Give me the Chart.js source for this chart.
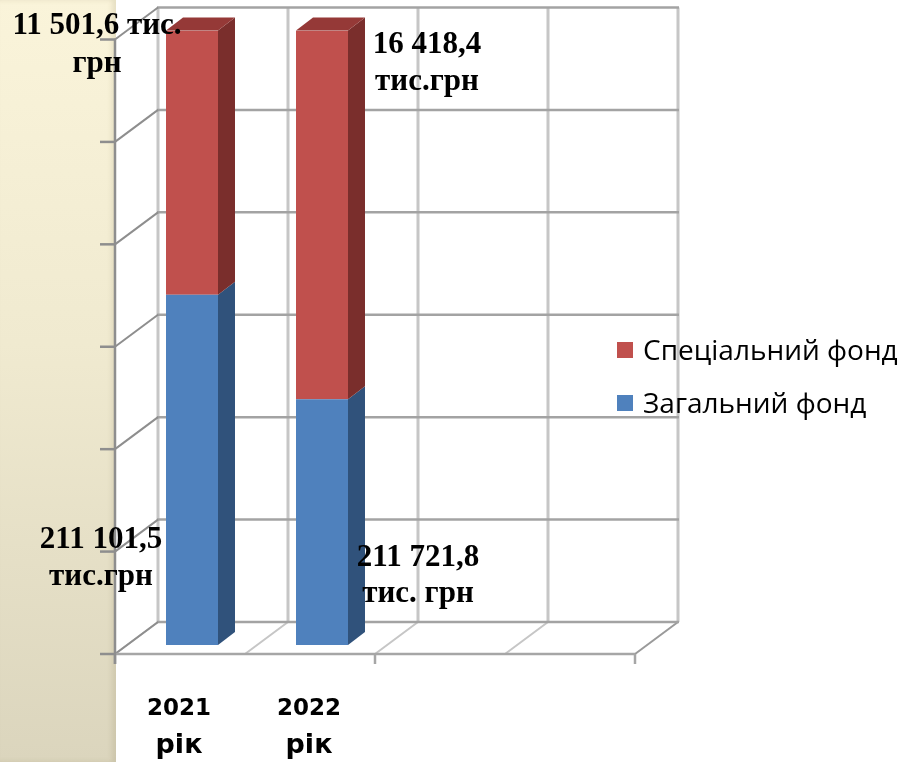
<!DOCTYPE html>
<html>
<head>
<meta charset="utf-8">
<script src="https://cdn.jsdelivr.net/npm/chart.js@4"></script>
<style>
  html, body { margin: 0; padding: 0; background: #ffffff; }
  #wrap { position: relative; width: 899px; height: 762px; overflow: hidden; }
  #band {
    position: absolute; left: 0; top: 0; width: 116px; height: 762px;
    background: linear-gradient(to bottom, #FAF4DA 0%, #F0EAD0 45%, #DBD5BD 100%);
    box-shadow: inset -4px 0 5px rgba(120,110,70,0.15);
  }
  canvas { position: absolute; left: 0; top: 0; }
</style>
</head>
<body>
<div id="wrap">
  <div id="band"></div>
  <canvas id="c" width="899" height="762"></canvas>
</div>
<script>
// ---- data (plotted shares, %) ----
const categories = ['2021 рік', '2022 рік', '', ''];
const generalFund = [57, 40, null, null];   // Загальний фонд
const specialFund = [43, 60, null, null];   // Спеціальний фонд
const seriesNames = ['Загальний фонд', 'Спеціальний фонд'];
const generalLabels = [['211 101,5', 'тис.грн'], ['211 721,8', 'тис. грн']];
const specialLabels = [['11 501,6 тис.', 'грн'], ['16 418,4', 'тис.грн']];
const gridSteps = 6;
const yMax = 100;

// ---- styles ----
const COL = {
  blue: '#4F81BD', blueSide: '#30527B',
  red: '#C0504D', redSide: '#7A2E2C', redTop: '#953937'
};
const FRONT = { dx: -12, dy: 9 };   // front plane offset from bar plane
const BACK  = { dx: 31, dy: -23 };  // back wall offset from bar plane
const DEPTH = { dx: 17, dy: -13 };  // bar depth

function line(ctx, x1, y1, x2, y2) {
  ctx.beginPath(); ctx.moveTo(x1, y1); ctx.lineTo(x2, y2); ctx.stroke();
}
function poly(ctx, pts, fill) {
  ctx.beginPath(); ctx.moveTo(pts[0][0], pts[0][1]);
  for (let i = 1; i < pts.length; i++) ctx.lineTo(pts[i][0], pts[i][1]);
  ctx.closePath(); ctx.fillStyle = fill; ctx.fill();
}

const fake3d = {
  id: 'fake3d',
  beforeDatasetsDraw(chart) {
    const { ctx, chartArea: a, scales: { y } } = chart;
    const n = categories.length;
    const step = (a.right - a.left) / n;
    const y0 = y.getPixelForValue(0), yT = y.getPixelForValue(yMax);
    ctx.save();
    ctx.lineCap = 'butt';
    // back wall verticals
    ctx.strokeStyle = '#C6C6C6'; ctx.lineWidth = 3;
    for (let k = 0; k <= n; k++) {
      const bx = a.left + k * step + BACK.dx;
      line(ctx, bx, yT + BACK.dy, bx, y0 + BACK.dy);
    }
    // floor diagonals
    ctx.strokeStyle = '#C6C6C6'; ctx.lineWidth = 2;
    for (let k = 0; k <= n; k++) {
      const fx = a.left + k * step;
      if (k === n) ctx.strokeStyle = '#9A9A9A';
      line(ctx, fx + FRONT.dx, y0 + FRONT.dy, fx + BACK.dx, y0 + BACK.dy);
    }
    // back wall horizontals
    ctx.strokeStyle = '#A3A3A3'; ctx.lineWidth = 2.5;
    for (let i = 0; i <= gridSteps; i++) {
      const py = y.getPixelForValue(i * yMax / gridSteps) + BACK.dy;
      line(ctx, a.left + BACK.dx - 1, py, a.right + BACK.dx + 1, py);
    }
    // side wall diagonals
    ctx.strokeStyle = '#8E8E8E'; ctx.lineWidth = 2;
    for (let i = 0; i <= gridSteps; i++) {
      const py = y.getPixelForValue(i * yMax / gridSteps);
      line(ctx, a.left + FRONT.dx, py + FRONT.dy, a.left + BACK.dx, py + BACK.dy);
    }
    // front floor line and x ticks
    ctx.strokeStyle = '#A6A6A6'; ctx.lineWidth = 2.5;
    line(ctx, a.left + FRONT.dx, y0 + FRONT.dy, a.right + FRONT.dx, y0 + FRONT.dy);
    for (let k = 0; k <= n; k += 2) {
      const fx = a.left + k * step + FRONT.dx;
      line(ctx, fx, y0 + FRONT.dy, fx, y0 + FRONT.dy + 10);
    }
    // front vertical axis with ticks
    ctx.strokeStyle = '#8E8E8E'; ctx.lineWidth = 2.5;
    line(ctx, a.left + FRONT.dx, yT + FRONT.dy, a.left + FRONT.dx, y0 + FRONT.dy + 10);
    for (let i = 0; i <= gridSteps; i++) {
      const py = y.getPixelForValue(i * yMax / gridSteps) + FRONT.dy;
      line(ctx, a.left + FRONT.dx - 15, py, a.left + FRONT.dx, py);
    }
    ctx.restore();
  },
  afterDatasetsDraw(chart) {
    const { ctx } = chart;
    const sides = [COL.blueSide, COL.redSide];
    const nd = chart.data.datasets.length;
    ctx.save();
    for (let d = 0; d < nd; d++) {
      const meta = chart.getDatasetMeta(d);
      meta.data.forEach((el, i) => {
        const v = chart.data.datasets[d].data[i];
        if (v === null || v === undefined) return;
        const L = el.x - el.width / 2, R = el.x + el.width / 2;
        const top = el.y, bot = el.base;
        poly(ctx, [[R, top], [R + DEPTH.dx, top + DEPTH.dy], [R + DEPTH.dx, bot + DEPTH.dy], [R, bot]], sides[d]);
        if (d === nd - 1) {
          poly(ctx, [[L, top], [L + DEPTH.dx, top + DEPTH.dy], [R + DEPTH.dx, top + DEPTH.dy], [R, top]], COL.redTop);
        }
      });
    }
    ctx.restore();
  },
  afterDraw(chart) {
    const { ctx, scales: { x } } = chart;
    ctx.save();
    ctx.fillStyle = '#000';
    ctx.textAlign = 'center';
    ctx.textBaseline = 'alphabetic';
    // value labels
    ctx.font = 'bold 31px "Liberation Serif", "Times New Roman", serif';
    const gMeta = chart.getDatasetMeta(0), sMeta = chart.getDatasetMeta(1);
    const sPlace = [{ dx: -95, dy: [3.5, 41.5] }, { dx: 105, dy: [22.5, 59.5] }];
    const gPlace = [{ dx: -91, dy: [-97, -60] }, { dx: 96, dy: [-79, -43] }];
    specialLabels.forEach((lines, i) => {
      const el = sMeta.data[i];
      lines.forEach((t, j) => ctx.fillText(t, el.x + sPlace[i].dx, el.y + sPlace[i].dy[j]));
    });
    generalLabels.forEach((lines, i) => {
      const el = gMeta.data[i];
      lines.forEach((t, j) => ctx.fillText(t, el.x + gPlace[i].dx, el.base + gPlace[i].dy[j]));
    });
    // category labels
    const catFonts = ['bold 23px "DejaVu Sans", sans-serif', 'bold 27px "DejaVu Sans", sans-serif'];
    const catBase = [715, 753];
    categories.forEach((c, i) => {
      if (!c) return;
      const cx = x.getPixelForValue(i) + FRONT.dx - 1;
      c.split(' ').forEach((t, j) => {
        ctx.font = catFonts[j];
        ctx.fillText(t, cx, catBase[j]);
      });
    });
    // legend
    ctx.textAlign = 'left';
    ctx.font = '28px "Open Sans", sans-serif';
    const items = [
      { name: seriesNames[1], color: COL.red },
      { name: seriesNames[0], color: COL.blue }
    ];
    items.forEach((it, j) => {
      const yy = 342 + j * 53;
      ctx.fillStyle = it.color;
      ctx.fillRect(617, yy, 16, 16);
      ctx.fillStyle = '#000';
      ctx.fillText(it.name, 643, yy + 18);
    });
    ctx.restore();
  }
};

new Chart(document.getElementById('c'), {
  type: 'bar',
  data: {
    labels: categories,
    datasets: [
      { label: seriesNames[0], data: generalFund, backgroundColor: COL.blue },
      { label: seriesNames[1], data: specialFund, backgroundColor: COL.red }
    ]
  },
  options: {
    responsive: false,
    animation: false,
    devicePixelRatio: 1,
    layout: { padding: { left: 127, right: 252, top: 30.5, bottom: 117 } },
    datasets: { bar: { categoryPercentage: 1, barPercentage: 0.4 } },
    plugins: { legend: { display: false }, tooltip: { enabled: false } },
    scales: {
      x: { stacked: true, display: false },
      y: { stacked: true, display: false, min: 0, max: yMax }
    }
  },
  plugins: [fake3d]
});
</script>
</body>
</html>
